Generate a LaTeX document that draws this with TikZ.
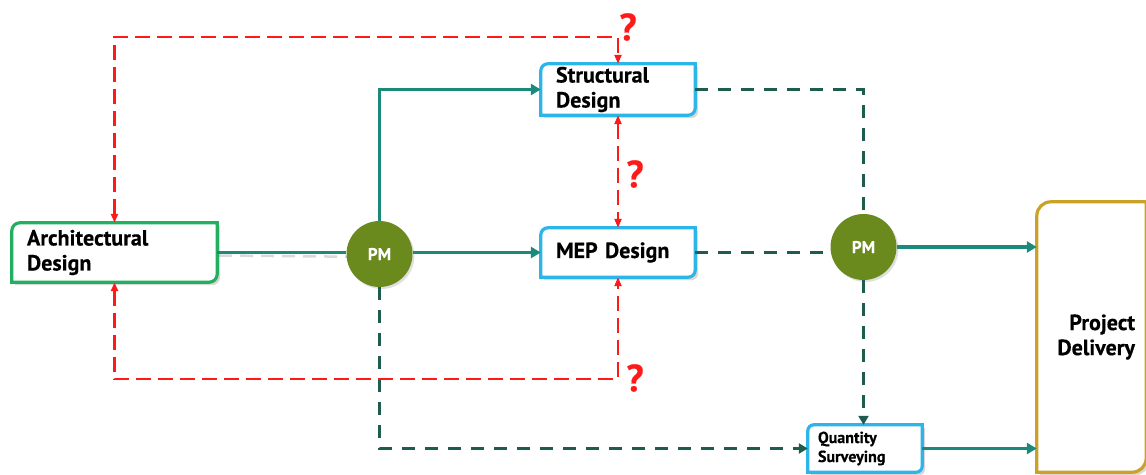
\documentclass[tikz,border=0pt]{standalone}
\usepackage{fontspec}
\setmainfont{PT Sans}[BoldFeatures={FakeBold=0.4}]
\usetikzlibrary{arrows.meta,shadows,backgrounds,calc}

\definecolor{flowteal}{HTML}{1B8A7A}
\definecolor{darkdash}{HTML}{1F5C50}
\definecolor{qred}{HTML}{FF1A1A}
\definecolor{pmolive}{HTML}{6B8A1E}
\definecolor{sblue}{HTML}{2BB5E8}
\definecolor{agreen}{HTML}{22B060}
\definecolor{pgold}{HTML}{C9A227}

\tikzset{
  boxtext/.style={inner xsep=15pt, inner ysep=0pt, align=left, font=\bfseries\fontsize{22}{25}\selectfont},
  pmnode/.style={circle, fill=pmolive, minimum size=66pt, inner sep=0pt, text=white,
                 font=\bfseries\fontsize{17}{19}\selectfont,
                 drop shadow={opacity=0.25, shadow xshift=2pt, shadow yshift=-2pt}},
  flow/.style={draw=flowteal, line width=3.2pt, -{Triangle[length=10pt,width=11pt]}},
  flowplain/.style={draw=flowteal, line width=3.2pt},
  ddash/.style={draw=darkdash, line width=3.6pt, dash pattern=on 13pt off 10pt},
  ddarrow/.style={ddash, -{Triangle[length=9pt,width=10pt]}},
  rdash/.style={draw=qred, line width=2.3pt, dash pattern=on 15pt off 7pt,
                {Triangle[length=9pt,width=7pt]}-{Triangle[length=9pt,width=7pt]}},
  qmark/.style={text=qred, font=\bfseries\fontsize{38}{40}\selectfont, inner sep=0pt},
}

% frame with rounded top-left and bottom-right corners
\newcommand\frameit[3]{%
  \draw[line width=3.2pt, draw=#2, fill=white,
        drop shadow={opacity=0.3, shadow xshift=3pt, shadow yshift=-3pt}]
    (#1.south west) -- ($(#1.north west)+(0pt,-#3)$)
    arc[start angle=180, end angle=90, radius=#3]
    -- (#1.north east) -- ($(#1.south east)+(0pt,#3)$)
    arc[start angle=0, end angle=-90, radius=#3] -- cycle;}

\begin{document}
\begin{tikzpicture}[x=1pt, y=1pt]
\useasboundingbox (0,0) rectangle (1146,-474);

% boxes
\node[boxtext, minimum width=205pt, minimum height=59pt, text width=175pt] (arch) at (114.5,-252.5) {Architectural\\Design};
\node[boxtext, minimum width=154pt, minimum height=51pt, text width=124pt] (struct) at (618,-89.5) {Structural\\Design};
\node[boxtext, minimum width=154pt, minimum height=49pt, text width=124pt] (mep) at (618,-252.5) {MEP Design};
\node[boxtext, inner xsep=10pt, minimum width=114pt, minimum height=47pt, text width=94pt,
      font=\bfseries\fontsize{16}{19}\selectfont] (qs) at (865,-448.5) {Quantity\\Surveying};
\node[boxtext, inner xsep=0pt, minimum width=109pt, minimum height=270pt, text width=87pt, align=right] (pd) at (1091.5,-337) {Project\\Delivery};

% PM nodes
\node[pmnode] (pm1) at (379.5,-254) {PM};
\node[pmnode] (pm2) at (863.5,-247) {PM};

\begin{pgfonlayer}{background}
  \frameit{arch}{agreen}{8pt}
  \frameit{struct}{sblue}{7pt}
  \frameit{mep}{sblue}{7pt}
  \frameit{qs}{sblue}{6pt}
  \frameit{pd}{pgold}{14pt}
\end{pgfonlayer}

% helper points for the feedback loops
\coordinate (rtop) at (618,-37);
\coordinate (rbot) at (618,-379);

% solid flows
\draw[draw=black!60, line width=2.5pt, dash pattern=on 13pt off 8pt, opacity=0.25, transform canvas={shift={(2pt,-3pt)}}]
  (arch.east) -- (pm1);
\draw[flowplain] (arch.east) -- (arch.east -| pm1.west);
\draw[flow] (pm1.north) |- (struct.west);
\draw[flow] (pm1.east |- mep.west) -- (mep.west);
\draw[flow] (pm2.east) -- (pm2.east -| pd.west);
\draw[flow] (qs.east) -- (qs.east -| pd.west);

% dashed flows
\draw[ddash] (struct.east) -| (pm2.north);
\draw[ddash] (mep.east) -- (mep.east -| pm2.west);
\draw[ddarrow] (pm2.south) -- (pm2.south |- qs.north);
\draw[ddarrow] (pm1.south) |- (qs.west);

% feedback loops
\draw[rdash] (arch.north) |- (rtop) -- (struct.north);
\draw[rdash] (struct.south) -- (mep.north);
\draw[rdash] (arch.south) |- (rbot) -- (mep.south);

\node[qmark] (q1) at (628,-27) {?};
\node[qmark] (q2) at (635,-174) {?};
\node[qmark] (q3) at (635,-378) {?};
\end{tikzpicture}
\end{document}
